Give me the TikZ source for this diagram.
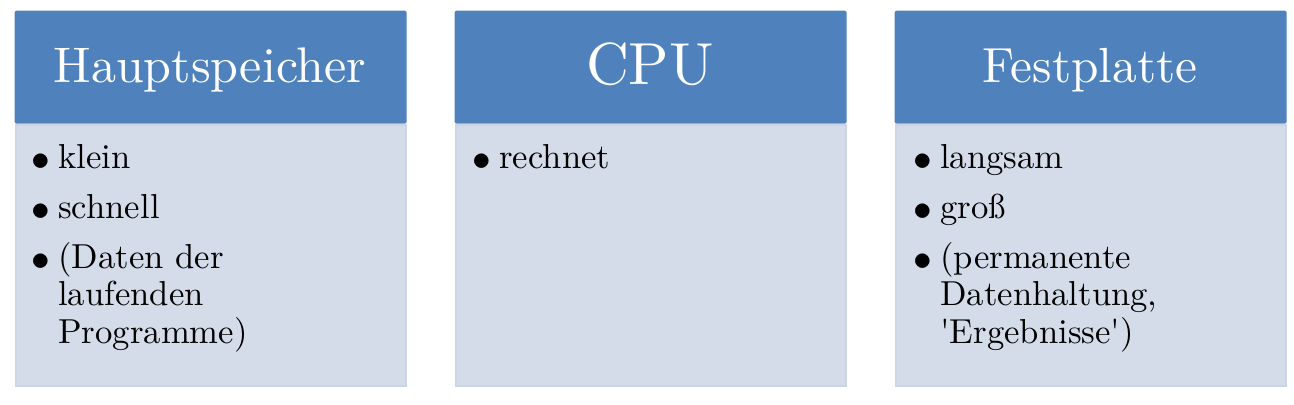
\documentclass[tikz,border=0pt]{standalone}
\usepackage{graphicx}
\definecolor{kopfblau}{RGB}{79,129,189}
\definecolor{rumpfgrau}{RGB}{212,220,233}
\definecolor{rumpfrand}{RGB}{203,213,230}
\newcommand{\punkt}{\makebox[8pt][l]{\raisebox{-0.8pt}{\scalebox{1.12}{$\bullet$}}}}
\begin{document}
\begin{tikzpicture}[x=0.3pt, y=-0.3pt,
        kopf/.style={fill=kopfblau, rounded corners=0.6pt, minimum width=117.6pt, minimum height=33.9pt, anchor=north west, inner sep=0pt},
        rumpf/.style={fill=rumpfgrau, draw=rumpfrand, line width=0.6pt, minimum width=117pt, minimum height=78.3pt, anchor=north west, inner sep=0pt},
        titel/.style={text=white, anchor=base, inner sep=0pt, font=\fontsize{10}{12}\selectfont},
        eintrag/.style={anchor=base west, inner sep=0pt, font=\fontsize{10.4}{11.25}\selectfont}]
                \useasboundingbox (0,0) rectangle (1294,404);
                % Hauptspeicher
                \node[rumpf] (hsrumpf) at (15,124) {};
                \node[kopf] (hskopf) at (14,10) {};
                \node[titel] (hstitel) at (210,82) {\scalebox{1.5}{Hauptspeicher}};
                \node[eintrag] (hs1) at (31,168) {\punkt klein};
                \node[eintrag] (hs2) at (31,218) {\punkt schnell};
                \node[eintrag] (hs3) at (31,268) {\punkt\parbox[t]{100pt}{(Daten der\\laufenden\\Programme)}};
                % CPU
                \node[rumpf] (cpurumpf) at (455,124) {};
                \node[kopf] (cpukopf) at (454,10) {};
                \node[titel] (cputitel) at (650,84) {\scalebox{1.78}{CPU}};
                \node[eintrag] (cpu1) at (472,168) {\punkt rechnet};
                % Festplatte
                \node[rumpf] (fprumpf) at (895,124) {};
                \node[kopf] (fpkopf) at (894,10) {};
                \node[titel] (fptitel) at (1090,82) {\scalebox{1.48}{Festplatte}};
                \node[eintrag] (fp1) at (913,168) {\punkt langsam};
                \node[eintrag] (fp2) at (913,218) {\punkt groß};
                \node[eintrag] (fp3) at (913,268) {\punkt\parbox[t]{100pt}{(permanente\\Datenhaltung,\\\textquotesingle Ergebnisse\textquotesingle)}};
\end{tikzpicture}
\end{document}
